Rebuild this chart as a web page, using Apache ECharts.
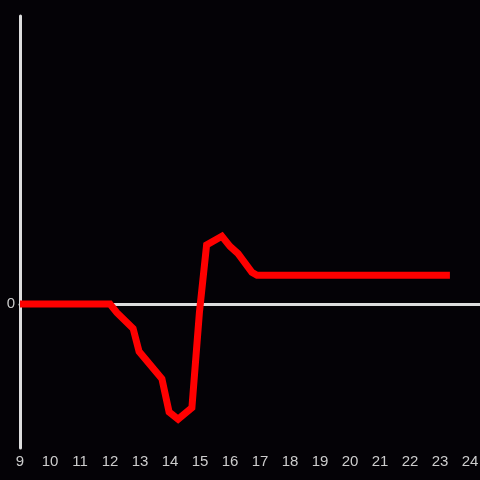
<!DOCTYPE html>
<html>
<head>
<meta charset="utf-8">
<script src="https://cdn.jsdelivr.net/npm/echarts@6/dist/echarts.min.js"></script>
<style>
  html, body { margin: 0; padding: 0; background: #040206; }
  #chart { width: 480px; height: 480px; }
</style>
</head>
<body>
<div id="chart"></div>
<script>
  // hours on the x axis, values on the y axis
  var xValues = [9, 12, 12.23, 12.77, 12.97, 13.73, 13.97, 14.27, 14.73, 14.98, 15.22, 15.73, 16.0, 16.27, 16.73, 16.9, 23.33];
  var yValues = [0, 0, -0.06, -0.17, -0.33, -0.52, -0.75, -0.80, -0.72, -0.06, 0.41, 0.47, 0.40, 0.35, 0.22, 0.20, 0.20];
  var xTicks = [9, 10, 11, 12, 13, 14, 15, 16, 17, 18, 19, 20, 21, 22, 23, 24];

  var points = xValues.map(function (x, i) { return [x, yValues[i]]; });

  var myChart = echarts.init(document.getElementById('chart'));
  var option = {
    backgroundColor: '#040206',
    animation: false,
    grid: { left: 20, right: 0, top: 16, bottom: 32, containLabel: false, outerBoundsMode: 'none' },
    xAxis: [
      {
        type: 'value',
        position: 'bottom',
        min: xTicks[0],
        max: 24.333,
        interval: 1,
        axisLine: { show: true, onZero: true, lineStyle: { color: '#dddddd', width: 3 } },
        axisTick: { show: false },
        axisLabel: { show: false },
        splitLine: { show: false }
      },
      {
        type: 'value',
        position: 'bottom',
        min: xTicks[0],
        max: 24.333,
        interval: 1,
        axisLine: { show: false, onZero: false },
        axisTick: { show: false },
        splitLine: { show: false },
        axisLabel: {
          color: '#cccccc',
          fontSize: 15,
          fontFamily: 'Liberation Sans',
          margin: 6,
          showMaxLabel: true,
          formatter: function (v) { return xTicks.indexOf(v) >= 0 ? String(v) : ''; }
        }
      }
    ],
    yAxis: {
      type: 'value',
      min: -1,
      max: 2,
      interval: 1,
      axisLine: { show: true, lineStyle: { color: '#dddddd', width: 3 } },
      axisTick: { show: false },
      splitLine: { show: false },
      axisLabel: {
        color: '#cccccc',
        fontSize: 15,
        fontFamily: 'Liberation Sans',
        margin: 5,
        formatter: function (v) { return v === 0 ? '0' : ''; }
      }
    },
    series: [
      {
        type: 'line',
        xAxisIndex: 0,
        data: points,
        symbol: 'none',
        lineStyle: { color: '#ff0000', width: 7, cap: 'butt', join: 'miter' }
      }
    ]
  };
  myChart.setOption(option);
</script>
</body>
</html>
